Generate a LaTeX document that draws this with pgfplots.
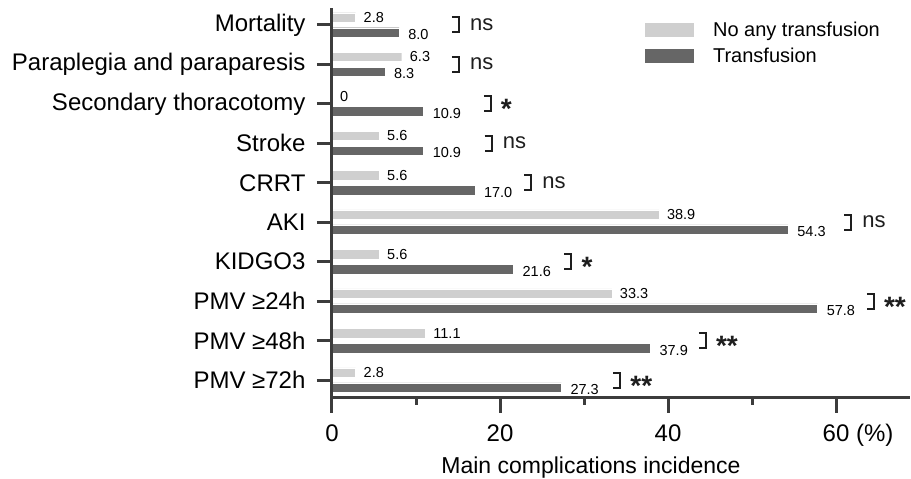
\documentclass[border=0pt]{standalone}
\usepackage{fontspec}
\setmainfont{Liberation Sans}
\usepackage{pgfplots}
\pgfplotsset{compat=1.18}
\usepackage{pgfplotstable}
\definecolor{lightbar}{HTML}{CFCFCF}
\definecolor{darkbar}{HTML}{666666}
\definecolor{axisgray}{HTML}{3C3C3C}
\definecolor{sigcol}{HTML}{1E1E1E}

\pgfplotstableread{
pos light lightlab dark darklab
9 2.8 2.8 8.0 8.0
8 8.3 6.3 6.3 8.3
7 0 0 10.9 10.9
6 5.6 5.6 10.9 10.9
5 5.6 5.6 17.0 17.0
4 38.9 38.9 54.3 54.3
3 5.6 5.6 21.6 21.6
2 33.3 33.3 57.8 57.8
1 11.1 11.1 37.9 37.9
0 2.8 2.8 27.3 27.3
}\datatable

\newcommand{\sigbr}[2]{%
  \draw[sigcol, line width=2pt] ([xshift=-7pt,yshift=7.5pt]axis cs:#1,#2) -- ([yshift=7.5pt]axis cs:#1,#2) -- ([yshift=-7.5pt]axis cs:#1,#2) -- ([xshift=-7pt,yshift=-7.5pt]axis cs:#1,#2);}
\newcommand{\signs}[2]{\sigbr{#1}{#2}%
  \node[anchor=base west, inner sep=0pt, text=sigcol, font=\fontsize{22}{24}\selectfont, yshift=-5.5pt] at ([xshift=11pt]axis cs:#1,#2) {ns};}
\newcommand{\sigst}[3]{\sigbr{#1}{#2}%
  \node[anchor=base west, inner sep=0pt, text=sigcol, font=\fontsize{28}{30}\selectfont\bfseries, yshift=-15pt] at ([xshift=10pt]axis cs:#1,#2) {#3};}

\begin{document}
\begin{tikzpicture}
\begin{axis}[
  name=ax,
  scale only axis,
  width=578pt, height=390pt,
  xmin=0, xmax=68.8,
  ymin=-0.456, ymax=9.431,
  axis lines*=left,
  axis line style={-, line width=3pt, axisgray},
  axis on top,
  clip=false,
  tick align=outside,
  major tick length=15pt,
  minor tick length=7pt,
  tick style={line width=3pt, axisgray},
  xtick={0,20,40,60},
  xticklabels={0,20,40,60\rlap{ (\%)}},
  minor xtick={10,30,50},
  ytick={0,1,2,3,4,5,6,7,8,9},
  yticklabels={PMV ≥72h,PMV ≥48h,PMV ≥24h,KIDGO3,AKI,CRRT,Stroke,Secondary thoracotomy,Paraplegia and paraparesis,Mortality},
  ticklabel style={font=\fontsize{24}{28}\selectfont},
  xticklabel style={yshift=-8pt},
  yticklabel style={xshift=-8pt},
  /pgf/number format/assume math mode=true,
  xlabel={Main complications incidence},
  xlabel style={font=\fontsize{23}{26}\selectfont, at={(ticklabel cs:0.448)}, anchor=north, yshift=-3pt},
  legend style={at={(rel axis cs:0.541,0.97)}, anchor=north west, draw=none, fill=none,
    inner sep=0pt, outer sep=0pt, font=\fontsize{20}{22}\selectfont, row sep=6pt,
    /tikz/every odd column/.append style={column sep=18pt}},
  legend cell align=left,
]
\addplot[xbar, bar width=9.5pt, bar shift=7.5pt, fill=lightbar, draw=white, line width=0.4pt,
  legend image code/.code={\fill[lightbar] (0pt,-6.5pt) rectangle (48pt,6.5pt);},
  point meta=explicit symbolic, nodes near coords,
  nodes near coords style={anchor=west, inner sep=0pt, xshift=8pt, yshift=7.5pt, text=black, font=\fontsize{14.5}{16}\selectfont}]
  table[x=light, y=pos, meta=lightlab] {\datatable};
\addlegendentry{No any transfusion}
\addplot[xbar, bar width=9.5pt, bar shift=-7.5pt, fill=darkbar, draw=white, line width=0.4pt,
  legend image code/.code={\fill[darkbar] (0pt,-6.5pt) rectangle (48pt,6.5pt);},
  point meta=explicit symbolic, nodes near coords,
  nodes near coords style={anchor=west, inner sep=0pt, xshift=9pt, yshift=-9.5pt, text=black, font=\fontsize{14.5}{16}\selectfont}]
  table[x=dark, y=pos, meta=darklab] {\datatable};
\addlegendentry{Transfusion}

\signs{15.1}{9}
\signs{15.1}{8}
\sigst{18.9}{7}{*}
\signs{19.0}{6}
\signs{23.7}{5}
\signs{61.8}{4}
\sigst{28.5}{3}{*}
\sigst{64.5}{2}{**}
\sigst{44.5}{1}{**}
\sigst{34.3}{0}{**}
\end{axis}
\pgfresetboundingbox
\path[use as bounding box] ([xshift=-332pt,yshift=-81pt]ax.south west) rectangle ([xshift=1pt,yshift=8pt]ax.north east);
\end{tikzpicture}
\end{document}
